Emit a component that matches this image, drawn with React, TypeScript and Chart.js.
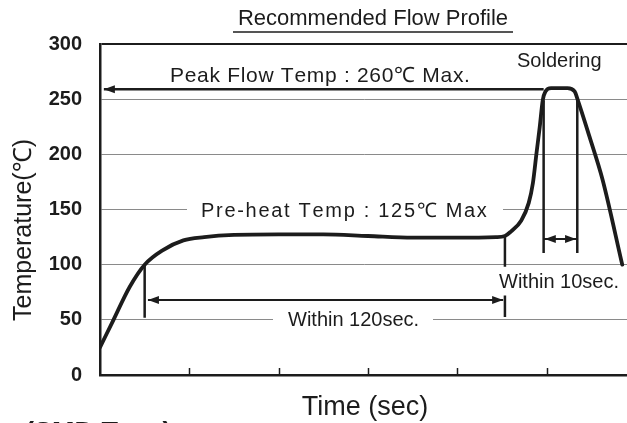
import React, { useEffect, useRef } from "react";
import { Chart, registerables } from "chart.js";

Chart.register(...registerables);

// ---- data ----
const yTicks = [0, 50, 100, 150, 200, 250, 300];
const xTickMarks = [30, 60, 90, 120, 150];
const xMax = 177;

const profileX = [0, 4, 10, 15, 21, 28, 35, 45, 60, 75, 90, 105, 120, 133, 136, 138, 141.5, 144, 145.4, 146.6, 147.7, 148.7, 149.6, 151.5, 157, 159.4, 160.5, 164.4, 168.8, 175.4];
const profileY = [25, 47, 80, 100, 113, 122, 125, 127, 127.5, 127.5, 126, 124.5, 124.5, 125, 126, 130, 140, 156, 174, 201, 225, 249, 257, 260, 260, 257, 249, 216, 177, 100];

const preheatMarkX = 15;
const preheatMarkY = [100, 52];
const endPreheatX = 136;
const endPreheatY = [125, 98, 72, 52.5];
const solderLeftX = 149;
const solderRightX = 160.3;
const solderMarkY = [249, 110.5];

const peakArrowY = 259;
const peakArrowX = [1.3, 149];
const within120Y = 68;
const within120X = [16.1, 135.4];
const within10Y = 123.3;
const within10X = [149, 160.3];

const FONT = '"Liberation Sans", Arial, Helvetica, sans-serif';
const INK = "#1c1c1c";

function pts(xs: number[], ys: (number | null)[]) {
  return xs.map((x, i) => ({ x, y: ys[i] }));
}

// draws text with extra tracking, character by character (no state leaks)
function spacedText(ctx: any, text: string, x: number, y: number, spacing: number) {
  let cx = x;
  for (const ch of Array.from(text)) {
    ctx.fillText(ch, cx, y);
    cx += ctx.measureText(ch).width + spacing;
  }
}

const annotationPlugin = {
  id: "profileAnnotations",
  beforeDatasetsDraw(chart: any) {
    const { ctx } = chart;
    const y = chart.scales.y;
    ctx.save();
    // white boxes interrupting gridlines behind labels
    ctx.fillStyle = "#ffffff";
    const p150 = y.getPixelForValue(150);
    ctx.fillRect(187, p150 - 4, 316, 8);
    const p50 = y.getPixelForValue(50);
    ctx.fillRect(273, p50 - 4, 160, 8);

    ctx.fillStyle = INK;
    ctx.textAlign = "left";
    ctx.textBaseline = "alphabetic";
    ctx.font = `21px ${FONT}`;
    spacedText(ctx, "Peak Flow Temp : 260\u2103 Max.", 170, 82, 0.7);
    ctx.font = `20px ${FONT}`;
    spacedText(ctx, "Pre-heat Temp : 125\u2103 Max", 201, 217, 1.7);
    ctx.fillText("Soldering", 517, 67);
    ctx.fillText("Within 120sec.", 288, 326);
    ctx.fillText("Within 10sec.", 499, 288);
    ctx.restore();
  },
  afterDraw(chart: any) {
    const { ctx, chartArea } = chart;
    const xs = chart.scales.x;
    const ys = chart.scales.y;
    ctx.save();
    ctx.fillStyle = INK;
    ctx.strokeStyle = INK;

    // arrowheads
    const head = (xv: number, yv: number, dir: number) => {
      const px = xs.getPixelForValue(xv);
      const py = ys.getPixelForValue(yv);
      ctx.beginPath();
      ctx.moveTo(px, py);
      ctx.lineTo(px - dir * 11, py - 4);
      ctx.lineTo(px - dir * 11, py + 4);
      ctx.closePath();
      ctx.fill();
    };
    head(peakArrowX[0], peakArrowY, -1);
    head(within120X[0], within120Y, -1);
    head(within120X[1], within120Y, 1);
    head(within10X[0] + 0.4, within10Y, -1);
    head(within10X[1] - 0.4, within10Y, 1);

    // inner x tick marks
    ctx.lineWidth = 1.5;
    xTickMarks.forEach((v) => {
      const px = Math.round(xs.getPixelForValue(v)) + 0.5;
      ctx.beginPath();
      ctx.moveTo(px, chartArea.bottom);
      ctx.lineTo(px, chartArea.bottom - 7);
      ctx.stroke();
    });

    // title with underline
    ctx.font = `22px ${FONT}`;
    ctx.textAlign = "center";
    ctx.textBaseline = "alphabetic";
    ctx.fillText("Recommended Flow Profile", 373, 25);
    ctx.lineWidth = 1.6;
    ctx.beginPath();
    ctx.moveTo(233, 32);
    ctx.lineTo(513, 32);
    ctx.stroke();

    // axis titles
    ctx.font = `27px ${FONT}`;
    ctx.fillText("Time (sec)", 365, 415);
    ctx.save();
    ctx.translate(24, 230);
    ctx.rotate(-Math.PI / 2);
    ctx.font = `25px ${FONT}`;
    ctx.textBaseline = "middle";
    ctx.fillText("Temperature(\u2103)", 0, 0);
    ctx.restore();

    // cut-off caption at the bottom
    ctx.font = `bold 27px ${FONT}`;
    ctx.textAlign = "left";
    ctx.fillText("(SMD Type)", 25, 441);
    ctx.restore();
  },
};

export default function App() {
  const ref = useRef<HTMLCanvasElement | null>(null);
  useEffect(() => {
    if (!ref.current) return;
    const lineDs = (data: any[], width: number, extra: any = {}) => ({
      data,
      borderColor: INK,
      borderWidth: width,
      pointRadius: 0,
      pointHoverRadius: 0,
      fill: false,
      tension: 0,
      spanGaps: false,
      borderCapStyle: "butt",
      ...extra,
    });
    const chart = new Chart(ref.current, {
      type: "line",
      data: {
        datasets: [
          lineDs(pts([preheatMarkX, preheatMarkX], preheatMarkY), 2.5),
          lineDs(
            [
              { x: endPreheatX, y: endPreheatY[0] },
              { x: endPreheatX, y: endPreheatY[1] },
              { x: endPreheatX, y: null },
              { x: endPreheatX, y: endPreheatY[2] },
              { x: endPreheatX, y: endPreheatY[3] },
            ],
            2.5
          ),
          lineDs(pts([solderLeftX, solderLeftX], solderMarkY), 2.5),
          lineDs(pts([solderRightX, solderRightX], solderMarkY), 2.5),
          lineDs(pts(peakArrowX, [peakArrowY, peakArrowY]), 2.5),
          lineDs(pts(within120X, [within120Y, within120Y]), 2),
          lineDs(pts(within10X, [within10Y, within10Y]), 2),
          lineDs(pts(profileX, profileY), 3.8, {
            cubicInterpolationMode: "monotone",
            borderJoinStyle: "round",
            borderCapStyle: "round",
          }),
        ],
      },
      options: {
        responsive: false,
        animation: false,
        devicePixelRatio: 1,
        events: [],
        layout: { padding: { top: 44, right: 0, left: 0, bottom: 0 } },
        plugins: {
          legend: { display: false },
          tooltip: { enabled: false },
          title: { display: false },
        },
        scales: {
          x: {
            type: "linear",
            min: 0,
            max: xMax,
            ticks: { display: false },
            grid: { drawOnChartArea: false, drawTicks: false },
            border: { color: INK, width: 2.5 },
            afterFit: (s: any) => {
              s.height = 48;
            },
          },
          y: {
            type: "linear",
            min: 0,
            max: 300,
            afterBuildTicks: (s: any) => {
              s.ticks = yTicks.map((v) => ({ value: v }));
            },
            ticks: {
              color: INK,
              padding: 18,
              font: { family: FONT, size: 20, weight: "bold" },
            },
            grid: {
              drawTicks: false,
              color: (c: any) => (c.tick && c.tick.value === 300 ? INK : "#8a8a8a"),
              lineWidth: (c: any) => (c.tick && c.tick.value === 300 ? 2 : 1),
            },
            border: { color: INK, width: 2.5 },
            afterFit: (s: any) => {
              s.width = 100;
            },
          },
        },
      },
      plugins: [annotationPlugin],
    } as any);
    return () => chart.destroy();
  }, []);
  return (
    <div style={{ position: "fixed", left: 0, top: 0, width: 627, height: 423, background: "#fff" }}>
      <canvas ref={ref} width={627} height={423} style={{ display: "block" }} />
    </div>
  );
}
